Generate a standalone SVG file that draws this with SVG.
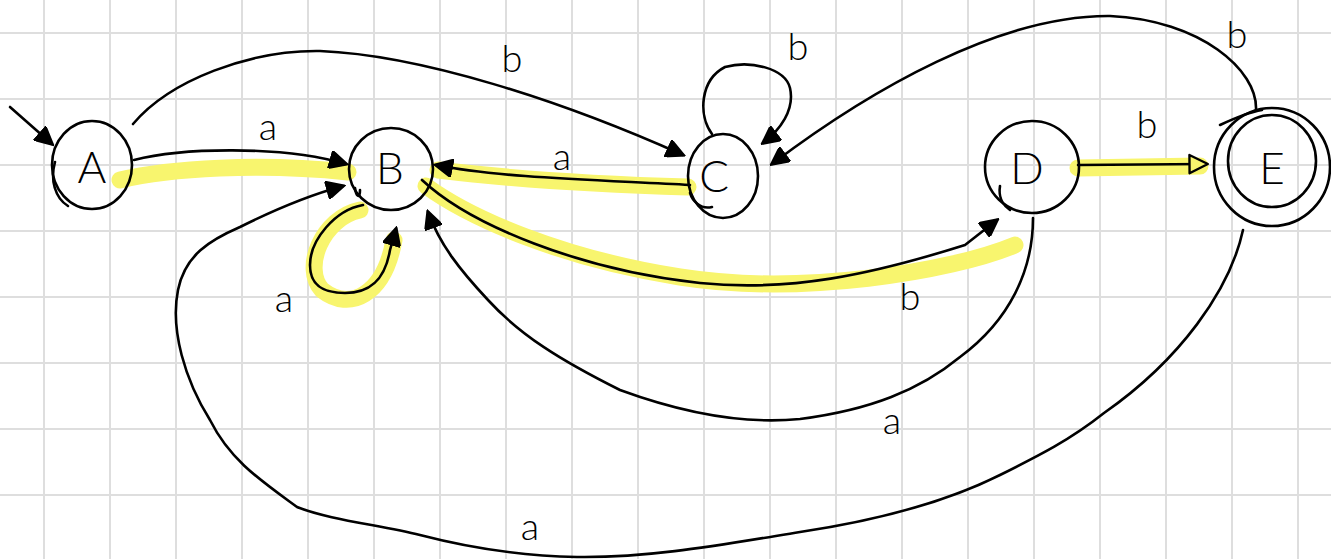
<svg xmlns="http://www.w3.org/2000/svg" width="1331" height="559" viewBox="0 0 1331 559">
<style>
.grid line{stroke:#dedede;stroke-width:2}
.hl{fill:none;stroke:#f8f56e;stroke-width:17;stroke-linecap:round;stroke-linejoin:round}
.e{fill:none;stroke:#000;stroke-width:2.6;stroke-linecap:round;stroke-linejoin:round}
.n{fill:none;stroke:#000;stroke-width:2.6;stroke-linecap:round}
.lbl{font-family:Lato,"Liberation Sans",sans-serif;font-weight:300;font-size:38px;fill:#000;text-anchor:middle}
.nl{font-family:Lato,"Liberation Sans",sans-serif;font-weight:300;font-size:44px;fill:#000;text-anchor:middle}
</style>
<defs>
<marker id="ah" viewBox="0 0 10 10" markerUnits="userSpaceOnUse" markerWidth="20" markerHeight="18" refX="9" refY="5" orient="auto">
<path d="M0,0 L10,5 L0,10 z" fill="#000" stroke="#000" stroke-width="1"/>
</marker>
<marker id="ahy" viewBox="-1 -1 12 12" markerUnits="userSpaceOnUse" markerWidth="22" markerHeight="22" refX="9" refY="5" orient="auto">
<path d="M0,0 L10,5 L0,10 z" fill="#f8f56e" stroke="#000" stroke-width="1.3" stroke-linejoin="round"/>
</marker>
</defs>
<rect width="1331" height="559" fill="#fff"/>
<g class="grid">
<line x1="44" y1="0" x2="44" y2="559"/><line x1="110" y1="0" x2="110" y2="559"/><line x1="176" y1="0" x2="176" y2="559"/><line x1="242" y1="0" x2="242" y2="559"/><line x1="308" y1="0" x2="308" y2="559"/><line x1="374" y1="0" x2="374" y2="559"/><line x1="440" y1="0" x2="440" y2="559"/><line x1="506" y1="0" x2="506" y2="559"/><line x1="572" y1="0" x2="572" y2="559"/><line x1="638" y1="0" x2="638" y2="559"/><line x1="704" y1="0" x2="704" y2="559"/><line x1="770" y1="0" x2="770" y2="559"/><line x1="836" y1="0" x2="836" y2="559"/><line x1="902" y1="0" x2="902" y2="559"/><line x1="968" y1="0" x2="968" y2="559"/><line x1="1034" y1="0" x2="1034" y2="559"/><line x1="1100" y1="0" x2="1100" y2="559"/><line x1="1166" y1="0" x2="1166" y2="559"/><line x1="1232" y1="0" x2="1232" y2="559"/><line x1="1298" y1="0" x2="1298" y2="559"/>
<line x1="0" y1="33" x2="1331" y2="33"/><line x1="0" y1="99" x2="1331" y2="99"/><line x1="0" y1="165" x2="1331" y2="165"/><line x1="0" y1="231" x2="1331" y2="231"/><line x1="0" y1="297" x2="1331" y2="297"/><line x1="0" y1="363" x2="1331" y2="363"/><line x1="0" y1="429" x2="1331" y2="429"/><line x1="0" y1="495" x2="1331" y2="495"/>
</g>
<g id="highlights">
<path class="hl" d="M120 180 C170 168 260 163 348 172"/>
<path class="hl" d="M438 170 C520 180 620 185 688 187"/>
<path class="hl" d="M426 186 C470 218 560 258 680 277 C800 296 950 272 1015 245"/>
<path class="hl" d="M1078 168 L1200 166"/>
<path class="hl" d="M360 210 C322 218 302 268 322 290 C350 312 384 295 394 240"/>
</g>
<g id="connectors">
<path class="e" d="M10 107 L52 144" marker-end="url(#ah)"/>
<path class="e" d="M134 160 C180 148 280 145 346 164" marker-end="url(#ah)"/>
<path class="e" d="M133 124 C170 80 250 50 320 51 C420 55 560 100 683 155" marker-end="url(#ah)"/>
<path class="e" d="M712 134 C698 115 700 80 725 67 C750 60 785 68 790 88 C795 110 780 130 763 143" marker-end="url(#ah)"/>
<path class="e" d="M690 185 C600 180 500 178 436 165" marker-end="url(#ah)"/>
<path class="e" d="M422 180 C470 225 580 270 700 283 C790 292 870 275 965 245 L997 220" marker-end="url(#ah)"/>
<path class="e" d="M1078 165 L1206 164" marker-end="url(#ahy)"/>
<path class="e" d="M1256 110 C1258 70 1200 20 1110 16 C1000 15 870 90 772 164" marker-end="url(#ah)"/>
<path class="e" d="M1033 218 C1033 270 1010 320 960 357 C920 390 870 410 800 419 C740 425 680 412 620 390 C560 360 520 335 488 300 C460 270 440 245 428 212" marker-end="url(#ah)"/>
<path class="e" d="M1243 230 C1230 290 1180 360 1104 413 C1070 440 1040 455 1000 475 C950 500 880 520 800 532 C720 545 650 558 577 557 C520 556 470 548 420 535 C380 525 330 520 297 507 C260 480 230 460 210 420 C185 380 170 330 178 290 C185 255 210 240 240 227 C270 212 310 195 343 186" marker-end="url(#ah)"/>
<path class="e" d="M363 205 C335 210 310 240 310 265 C310 290 330 293 345 293 C370 293 385 280 390 250 L396 229" marker-end="url(#ah)"/>
</g>
<g id="edge-labels">
<text class="lbl" x="268" y="140">a</text>
<text class="lbl" x="512" y="72">b</text>
<text class="lbl" x="798" y="60">b</text>
<text class="lbl" x="562" y="170">a</text>
<text class="lbl" x="1147" y="138">b</text>
<text class="lbl" x="1237" y="48">b</text>
<text class="lbl" x="910" y="310">b</text>
<text class="lbl" x="892" y="434">a</text>
<text class="lbl" x="530" y="540">a</text>
<text class="lbl" x="284" y="312">a</text>
</g>
<g id="node-A">
<ellipse class="n" cx="92" cy="165" rx="40" ry="44"/>
<path class="n" d="M68 206 C55 198 50 180 55 162"/>
<text class="nl" x="92" y="183">A</text>
</g>
<g id="node-B">
<ellipse class="n" cx="391" cy="169" rx="42" ry="41"/>
<path class="n" d="M355 188 C356 196 360 200 360 190"/>
<text class="nl" x="390" y="184">B</text>
</g>
<g id="node-C">
<ellipse class="n" cx="723" cy="176" rx="35" ry="42"/>
<path class="n" d="M690 193 C692 200 700 210 712 207"/>
<text class="nl" x="714" y="192">C</text>
</g>
<g id="node-D">
<ellipse class="n" cx="1032" cy="167" rx="47" ry="46"/>
<path class="n" d="M1000 186 C998 198 1004 206 1010 210"/>
<text class="nl" x="1027" y="184">D</text>
</g>
<g id="node-E">
<ellipse class="n" cx="1272" cy="167" rx="58" ry="59"/>
<ellipse class="n" cx="1272" cy="161" rx="44" ry="46"/>
<path class="n" d="M1220 125 C1235 118 1250 112 1262 110"/>
<text class="nl" x="1272" y="184">E</text>
</g>
</svg>
